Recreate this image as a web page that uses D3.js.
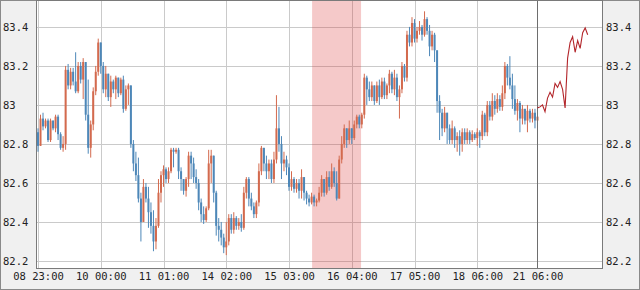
<!DOCTYPE html>
<html>
<head>
<meta charset="utf-8">
<script src="https://cdn.jsdelivr.net/npm/d3@7/dist/d3.min.js"></script>
<style>
  body { margin: 0; background: #f0f0f0; }
  text { font-family: "DejaVu Sans Mono", monospace; font-size: 10.5px; fill: #222; }
</style>
</head>
<body>
<svg id="chart"></svg>
<script>
// time axis labels and the bar they belong to
const timeLabels = ["08 23:00", "10 00:00", "11 01:00", "14 02:00", "15 03:00", "16 04:00", "17 05:00", "18 06:00", "21 06:00"];
const labelBars = [0, 25, 50, 75, 100, 125, 150, 175, 199];
const priceTicks = [82.2, 82.4, 82.6, 82.8, 83, 83.2, 83.4];

// hourly bars (open of each bar = close of the previous one)
const firstOpen = 82.86;
const close = [
  82.79, 82.93, 82.89, 82.92, 82.82, 82.92, 82.88, 82.94, 82.85, 82.78,
  82.80, 83.18, 83.10, 83.17, 83.12, 83.07, 83.20, 83.13, 83.22, 82.95,
  82.78, 82.90, 83.07, 83.17, 83.32, 83.20, 83.08, 83.16, 83.04, 83.12,
  83.08, 83.14, 83.06, 83.13, 82.98, 83.08, 83.10, 82.80, 82.70, 82.64,
  82.52, 82.40, 82.58, 82.52, 82.45, 82.38, 82.30, 82.38, 82.55, 82.64,
  82.67, 82.62, 82.66, 82.77, 82.76, 82.77, 82.66, 82.62, 82.56, 82.62,
  82.74, 82.70, 82.63, 82.60, 82.50, 82.44, 82.41, 82.47, 82.70, 82.74,
  82.55, 82.38, 82.36, 82.32, 82.27, 82.30, 82.42, 82.36, 82.42, 82.38,
  82.40, 82.37, 82.55, 82.62, 82.52, 82.48, 82.44, 82.50, 82.66, 82.78,
  82.70, 82.66, 82.70, 82.62, 82.72, 82.88, 82.80, 82.70, 82.72, 82.68,
  82.58, 82.62, 82.57, 82.60, 82.56, 82.63, 82.55, 82.52, 82.50, 82.53,
  82.50, 82.51, 82.55, 82.62, 82.55, 82.63, 82.58, 82.66, 82.60, 82.52,
  82.72, 82.80, 82.88, 82.82, 82.88, 82.83, 82.90, 82.94, 82.90, 82.95,
  83.14, 83.08, 83.04, 83.10, 83.02, 83.10, 83.04, 83.12, 83.05, 83.10,
  83.16, 83.08, 83.14, 83.04, 83.08, 83.20, 83.14, 83.36, 83.32, 83.42,
  83.34, 83.38, 83.40, 83.36, 83.44, 83.38, 83.30, 83.36, 83.28, 83.02,
  82.96, 82.88, 82.96, 82.88, 82.82, 82.88, 82.82, 82.84, 82.80, 82.86,
  82.82, 82.86, 82.82, 82.85, 82.83, 82.86, 82.84, 82.95, 82.86, 83.00,
  82.94, 83.02, 82.98, 83.03, 82.99, 83.06, 83.20, 83.14, 83.10, 83.03,
  82.97, 83.01, 82.93, 82.98, 82.92, 82.97, 82.93, 82.96, 82.92, 82.94
];
const high = [
  82.88, 82.95, 82.96, 82.93, 82.93, 82.93, 82.92, 82.95, 82.95, 82.86,
  82.84, 83.20, 83.21, 83.19, 83.19, 83.27, 83.22, 83.22, 83.24, 83.22,
  83.13, 82.92, 83.09, 83.20, 83.34, 83.32, 83.22, 83.20, 83.16, 83.15,
  83.13, 83.15, 83.14, 83.14, 83.15, 83.10, 83.11, 83.10, 82.82, 82.76,
  82.73, 82.55, 82.62, 82.60, 82.58, 82.50, 82.46, 82.42, 82.62, 82.66,
  82.69, 82.68, 82.68, 82.78, 82.78, 82.78, 82.78, 82.68, 82.62, 82.63,
  82.76, 82.76, 82.73, 82.67, 82.62, 82.52, 82.48, 82.48, 82.77, 82.77,
  82.74, 82.56, 82.42, 82.40, 82.34, 82.40, 82.44, 82.44, 82.45, 82.43,
  82.42, 82.44, 82.58, 82.63, 82.63, 82.55, 82.50, 82.51, 82.70, 82.79,
  82.78, 82.74, 82.72, 82.72, 82.76, 83.05, 82.99, 82.84, 82.76, 82.74,
  82.70, 82.66, 82.63, 82.62, 82.62, 82.67, 82.63, 82.56, 82.54, 82.55,
  82.54, 82.52, 82.58, 82.64, 82.62, 82.66, 82.66, 82.70, 82.68, 82.66,
  82.74, 82.84, 82.90, 82.88, 82.92, 82.88, 82.92, 82.95, 82.95, 82.96,
  83.16, 83.15, 83.12, 83.12, 83.10, 83.12, 83.13, 83.14, 83.14, 83.11,
  83.18, 83.17, 83.18, 83.16, 83.10, 83.22, 83.21, 83.38, 83.40, 83.45,
  83.44, 83.40, 83.43, 83.41, 83.48, 83.45, 83.41, 83.38, 83.37, 83.28,
  83.05, 82.98, 82.99, 82.96, 82.90, 82.92, 82.89, 82.86, 82.87, 82.88,
  82.88, 82.88, 82.87, 82.87, 82.86, 82.88, 82.87, 82.97, 82.96, 83.02,
  83.02, 83.06, 83.05, 83.06, 83.05, 83.10, 83.22, 83.21, 83.25, 83.16,
  83.10, 83.03, 83.02, 83.00, 82.98, 83.00, 82.98, 82.98, 82.98, 82.98
];
const low = [
  82.76, 82.79, 82.87, 82.88, 82.81, 82.81, 82.87, 82.86, 82.82, 82.77,
  82.76, 82.77, 83.08, 83.08, 83.10, 83.06, 83.06, 83.11, 83.03, 82.92,
  82.75, 82.73, 82.87, 83.05, 83.15, 83.16, 83.06, 83.04, 83.02, 82.99,
  83.06, 83.03, 83.04, 83.05, 82.96, 82.97, 83.00, 82.78, 82.66, 82.61,
  82.50, 82.30, 82.48, 82.50, 82.37, 82.34, 82.25, 82.26, 82.37, 82.50,
  82.58, 82.60, 82.60, 82.65, 82.68, 82.75, 82.62, 82.56, 82.54, 82.53,
  82.58, 82.62, 82.60, 82.57, 82.46, 82.40, 82.39, 82.40, 82.46, 82.60,
  82.50, 82.33, 82.30, 82.28, 82.24, 82.23, 82.28, 82.34, 82.34, 82.36,
  82.36, 82.35, 82.36, 82.52, 82.48, 82.46, 82.42, 82.42, 82.48, 82.64,
  82.66, 82.62, 82.62, 82.60, 82.60, 82.70, 82.76, 82.62, 82.66, 82.64,
  82.56, 82.56, 82.55, 82.55, 82.52, 82.52, 82.51, 82.49, 82.48, 82.49,
  82.48, 82.48, 82.50, 82.53, 82.53, 82.54, 82.56, 82.57, 82.58, 82.51,
  82.52, 82.70, 82.78, 82.78, 82.80, 82.80, 82.82, 82.88, 82.88, 82.88,
  82.93, 83.00, 83.02, 83.02, 83.00, 83.01, 83.00, 83.03, 83.03, 83.03,
  83.06, 83.06, 83.05, 83.02, 82.93, 83.06, 83.12, 83.12, 83.30, 83.30,
  83.32, 83.32, 83.36, 83.33, 83.35, 83.36, 83.25, 83.28, 83.22, 82.96,
  82.82, 82.84, 82.86, 82.80, 82.80, 82.80, 82.78, 82.76, 82.74, 82.76,
  82.80, 82.80, 82.80, 82.81, 82.82, 82.79, 82.78, 82.82, 82.84, 82.84,
  82.92, 82.92, 82.95, 82.96, 82.97, 82.97, 83.03, 83.10, 83.08, 82.98,
  82.95, 82.92, 82.86, 82.90, 82.90, 82.86, 82.91, 82.91, 82.88, 82.88
];

// projection drawn after the last bar
const forecastStart = 199;
const forecast = [82.985, 82.99, 83.0, 82.965, 83.035, 83.065, 83.04, 83.11, 83.09, 83.12,
                  83.08, 82.985, 83.24, 83.32, 83.35, 83.27, 83.33, 83.29, 83.37, 83.395, 83.36];

const highlightBars = [109.2, 128.7];
const nowBar = 199;

const width = 640, height = 290;
const plot = { left: 36, right: 603, top: 0, bottom: 268 };

const svg = d3.select("#chart")
    .attr("width", width)
    .attr("height", height);

svg.append("rect")
    .attr("x", 0.5).attr("y", 0.5)
    .attr("width", width - 1).attr("height", height - 1)
    .attr("fill", "#f0f0f0")
    .attr("stroke", "#8a8a8a");

const x = d3.scaleLinear()
    .domain([-0.4, 225.1])
    .range([plot.left + 1, plot.right]);

const y = d3.scaleLinear()
    .domain([82.164, 83.538])
    .range([plot.bottom, plot.top]);

svg.append("rect")
    .attr("x", plot.left).attr("y", plot.top)
    .attr("width", plot.right - plot.left).attr("height", plot.bottom - plot.top)
    .attr("fill", "#fff");

// grid
const grid = svg.append("g").attr("stroke", "#cacaca").attr("shape-rendering", "crispEdges");
grid.selectAll(".hg")
    .data(priceTicks)
    .enter().append("line")
    .attr("x1", plot.left).attr("x2", plot.right)
    .attr("y1", d => Math.round(y(d)) + 0.5)
    .attr("y2", d => Math.round(y(d)) + 0.5);

grid.selectAll(".vg")
    .data(labelBars.filter(d => d !== nowBar))
    .enter().append("line")
    .attr("y1", plot.top).attr("y2", plot.bottom)
    .attr("x1", d => Math.round(x(d)) + 0.5)
    .attr("x2", d => Math.round(x(d)) + 0.5);

// highlighted session
svg.append("rect")
    .attr("x", x(highlightBars[0]))
    .attr("width", x(highlightBars[1]) - x(highlightBars[0]))
    .attr("y", plot.top).attr("height", plot.bottom - plot.top)
    .attr("fill", "rgb(220,60,60)")
    .attr("opacity", 0.28);

// bars
const bars = close.map((c, i) => {
    const o = i === 0 ? firstOpen : close[i - 1];
    return { i, o, c, h: Math.max(high[i], o, c), l: Math.min(low[i], o, c) };
});

const upColor = "#d36a4e", downColor = "#4d87b8";

const candles = svg.append("g").selectAll(".bar")
    .data(bars)
    .enter().append("g")
    .attr("class", "bar");

candles.append("line")
    .attr("x1", d => x(d.i)).attr("x2", d => x(d.i))
    .attr("y1", d => y(d.h)).attr("y2", d => y(d.l))
    .attr("stroke", d => d.c >= d.o ? upColor : downColor)
    .attr("stroke-width", 1);

candles.append("rect")
    .attr("x", d => x(d.i) - 1)
    .attr("width", 2)
    .attr("y", d => y(Math.max(d.o, d.c)))
    .attr("height", d => Math.max(1, Math.abs(y(d.o) - y(d.c))))
    .attr("fill", d => d.c >= d.o ? upColor : downColor);

// now marker
svg.append("line")
    .attr("x1", Math.round(x(nowBar)) + 0.5).attr("x2", Math.round(x(nowBar)) + 0.5)
    .attr("y1", plot.top).attr("y2", plot.bottom)
    .attr("stroke", "#6e6e6e")
    .attr("shape-rendering", "crispEdges");

// forecast line
const line = d3.line()
    .x((d, k) => x(forecastStart + k))
    .y(d => y(d));

svg.append("path")
    .datum(forecast)
    .attr("d", line)
    .attr("fill", "none")
    .attr("stroke", "#b3262b")
    .attr("stroke-width", 1.1);

// plot frame
svg.append("rect")
    .attr("x", plot.left + 0.5).attr("y", plot.top + 0.5)
    .attr("width", plot.right - plot.left - 1).attr("height", plot.bottom - plot.top)
    .attr("fill", "none")
    .attr("stroke", "#7a7a7a")
    .attr("shape-rendering", "crispEdges");

// price labels on both sides
const fmt = d => String(+d.toFixed(1));
const labelStyle = g => g.selectAll("text")
    .attr("fill", "#222")
    .style("font-family", "'DejaVu Sans Mono', monospace")
    .style("font-size", "10.5px");

const leftAxis = d3.axisLeft(y).tickValues(priceTicks).tickFormat(fmt).tickSize(0);
svg.append("g")
    .attr("transform", `translate(${plot.left},0)`)
    .call(leftAxis)
    .call(g => g.select(".domain").remove())
    .call(labelStyle)
    .call(g => g.selectAll("text")
        .attr("x", 3 - plot.left)
        .attr("text-anchor", "start"));

const rightAxis = d3.axisRight(y).tickValues(priceTicks).tickFormat(fmt).tickSize(0);
svg.append("g")
    .attr("transform", `translate(${plot.right},0)`)
    .call(rightAxis)
    .call(g => g.select(".domain").remove())
    .call(labelStyle)
    .call(g => g.selectAll("text").attr("x", 3));

// time labels
const bottomAxis = d3.axisBottom(x)
    .tickValues(labelBars)
    .tickFormat((d, k) => timeLabels[k])
    .tickSize(0);
svg.append("g")
    .attr("transform", `translate(0,${plot.bottom})`)
    .call(bottomAxis)
    .call(g => g.select(".domain").remove())
    .call(labelStyle)
    .call(g => g.selectAll("text").attr("y", 5));
</script>
</body>
</html>
